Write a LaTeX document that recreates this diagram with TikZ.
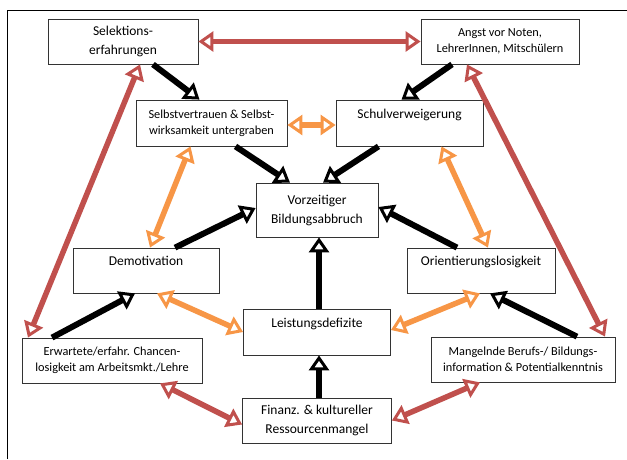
\documentclass[tikz,border=0pt]{standalone}
\usepackage{fontspec}
\setmainfont{Carlito}
\usetikzlibrary{arrows.meta}
\definecolor{arrRed}{HTML}{C0504D}
\definecolor{arrOrange}{HTML}{F79646}
\newcommand{\bigTxt}{\fontsize{13.5}{19}\selectfont}
\newcommand{\smallTxt}{\fontsize{12.3}{16}\selectfont}
\newcommand{\oneLine}[1]{#1\\~}
\tikzset{
    hd/.tip={Triangle[length=15pt, width=20pt, line width=3pt, fill=white]},
    box/.style={draw=black!80, line width=0.8pt, inner sep=0pt, align=center, minimum height=45, font=\bigTxt},
    small/.style={font=\smallTxt},
    blkarr/.style={line width=6pt, black, -hd},
    redarr/.style={line width=5.5pt, arrRed, hd-hd},
    orarr/.style={line width=5.5pt, arrOrange, hd-hd},
}

\begin{document}
\begin{tikzpicture}[x=1pt, y=-1pt]
    \useasboundingbox (0,0) rectangle (627,459);
    \draw [line width=0.9pt] (7,459) -- (7,10) -- (627,10);

    \node [box] (sel)    at (123,41.5)   [minimum width=150] {Selektions-\\erfahrungen};
    \node [box, small] (angst)  at (500,41.5)   [minimum width=158] {Angst vor Noten,\\LehrerInnen, Mitschülern};
    \node [box, small] (selbst) at (211.5,123)  [minimum width=151, minimum height=46] {Selbstvertrauen \& Selbst-\\wirksamkeit untergraben};
    \node [box] (schul)  at (409.5,123)  [minimum width=147, minimum height=46] {\oneLine{Schulverweigerung}};
    \node [box] (vorz)   at (317,210)    [minimum width=122, minimum height=54] {Vorzeitiger\\Bildungsabbruch};
    \node [box] (demo)   at (146,270.5)  [minimum width=146] {\oneLine{Demotivation}};
    \node [box] (orient) at (481,270.5)  [minimum width=148] {\oneLine{Orientierungslosigkeit}};
    \node [box] (leist)  at (317,332)    [minimum width=147, minimum height=46] {\oneLine{Leistungsdefizite}};
    \node [box, small] (erw)    at (112,360.5)  [minimum width=180] {Erwartete/erfahr. Chancen-\\losigkeit am Arbeitsmkt./Lehre};
    \node [box, small] (mang)   at (523,359.5)  [minimum width=184] {Mangelnde Berufs-/ Bildungs-\\information \& Potentialkenntnis};
    \node [box] (fin)    at (317,420.5)  [minimum width=149] {Finanz. \& kultureller\\Ressourcenmangel};

    % red: outer ring
    \draw [redarr] (sel.east) to (angst.west);
    \draw [redarr] ([xshift=17]sel.south) to ([xshift=-84]erw.north);
    \draw [redarr] ([xshift=-33]angst.south) to ([xshift=82]mang.north);
    \draw [redarr] ([xshift=48]erw.south) to ([yshift=-4]fin.west);
    \draw [redarr] (fin.east) to ([xshift=-43]mang.south);

    % orange: inner ring
    \draw [orarr] ([yshift=-2]selbst.east) to ([yshift=-2]schul.west);
    \draw [orarr] ([xshift=-21]selbst.south) to ([xshift=4]demo.north);
    \draw [orarr] ([xshift=32]schul.south) to ([xshift=7]orient.north);
    \draw [orarr] ([xshift=11]demo.south) to (leist.west);
    \draw [orarr] ([yshift=2]leist.east) to ([xshift=-1]orient.south);

    % black: causes
    \draw [blkarr] ([xshift=30]sel.south) to ([xshift=-12]selbst.north);
    \draw [blkarr] ([xshift=-48]angst.south) to ([xshift=-8]schul.north);
    \draw [blkarr] ([xshift=24]selbst.south) to ([xshift=-27]vorz.north);
    \draw [blkarr] ([xshift=-31]schul.south) to ([xshift=6]vorz.north);
    \draw [blkarr] ([xshift=29]demo.north) to ([yshift=2]vorz.west);
    \draw [blkarr] ([xshift=-24]orient.north) to ([yshift=3]vorz.east);
    \draw [blkarr] ([xshift=2]leist.north) to ([xshift=2]vorz.south);
    \draw [blkarr] ([xshift=-60]erw.north) to ([xshift=-11]demo.south);
    \draw [blkarr] ([xshift=54]mang.north) to ([xshift=9]orient.south);
    \draw [blkarr] ([xshift=2]fin.north) to ([xshift=2]leist.south);

\end{tikzpicture}
\end{document}
